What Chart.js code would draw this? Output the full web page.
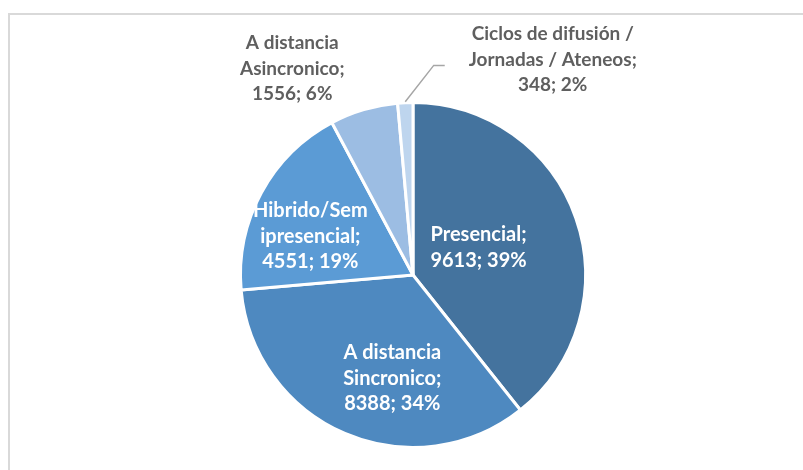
<!DOCTYPE html>
<html>
<head>
<meta charset="utf-8">
<script src="https://cdn.jsdelivr.net/npm/chart.js@4/dist/chart.umd.min.js"></script>
<style>
  html, body { margin: 0; padding: 0; background: #fff; }
  #wrap { position: relative; width: 803px; height: 470px; overflow: hidden; }
  #frame { position: absolute; left: 8px; top: 13px; width: 820px; height: 480px;
           border-left: 2px solid #d9d9d9; border-top: 2px solid #d9d9d9; }
  canvas { position: absolute; left: 0; top: 0; }
</style>
</head>
<body>
<div id="wrap">
  <div id="frame"></div>
  <canvas id="chart" width="803" height="470"></canvas>
</div>
<script>
  'use strict'

  const categories = ['Presencial', 'A distancia Sincronico', 'Hibrido/Semipresencial', 'A distancia Asincronico', 'Ciclos de difusión / Jornadas / Ateneos']
  const values = [9613, 8388, 4551, 1556, 348]
  const percents = ['39%', '34%', '19%', '6%', '2%']
  const labelLines = [
    ['Presencial;'],
    ['A distancia', 'Sincronico;'],
    ['Hibrido/Sem', 'ipresencial;'],
    ['A distancia', 'Asincronico;'],
    ['Ciclos de difusión /', 'Jornadas / Ateneos;']
  ]
  const colors = ['#44739e', '#4e89c0', '#5b9bd5', '#9cbde3', '#bed5ee']

  // label placement, in units of the pie radius from its centre
  const labelPlace = [
    { fx: 0.38, fy: -0.16, inside: true },
    { fx: -0.12, fy: 0.60, inside: true },
    { fx: -0.595, fy: -0.225, inside: true },
    { fx: -0.70, fy: -1.195, inside: false },
    { fx: 0.81, fy: -1.25, inside: false, leader: true }
  ]

  const sliceLabels = {
    id: 'sliceLabels',
    afterDatasetsDraw(chart) {
      const ctx = chart.ctx
      const arcs = chart.getDatasetMeta(0).data
      ctx.save()
      ctx.textAlign = 'center'
      ctx.textBaseline = 'middle'
      arcs.forEach((arc, i) => {
        const { x, y, outerRadius, startAngle, endAngle } = arc.getProps(['x', 'y', 'outerRadius', 'startAngle', 'endAngle'], true)
        const p = labelPlace[i]
        const lx = x + p.fx * outerRadius
        const ly = y + p.fy * outerRadius
        const lines = labelLines[i].concat([values[i] + '; ' + percents[i]])
        const lh = 25.5
        const top = ly - (lines.length - 1) * lh / 2

        if (p.leader) {
          const mid = (startAngle + endAngle) / 2
          ctx.strokeStyle = '#a6a6a6'
          ctx.lineWidth = 1.5
          ctx.beginPath()
          ctx.moveTo(x + Math.cos(mid) * (outerRadius + 1), y + Math.sin(mid) * (outerRadius + 1))
          ctx.lineTo(lx - 119, ly + 6)
          ctx.lineTo(lx - 108, ly + 6)
          ctx.stroke()
        }

        ctx.fillStyle = p.inside ? '#ffffff' : '#5f5f5f'
        ctx.font = p.inside ? 'bold 20px Lato' : 'bold 19px Lato'
        lines.forEach((t, k) => {
          ctx.fillText(t, lx, top + k * lh)
        })
      })
      ctx.restore()
    }
  }

  new Chart(document.getElementById('chart'), {
    type: 'pie',
    data: {
      labels: categories,
      datasets: [{
        data: values,
        backgroundColor: colors,
        borderColor: '#ffffff',
        borderWidth: 3
      }]
    },
    options: {
      responsive: false,
      animation: false,
      layout: { padding: { top: 101, bottom: 21, left: 239, right: 216 } },
      plugins: {
        legend: { display: false },
        tooltip: { enabled: false }
      }
    },
    plugins: [sliceLabels]
  })
</script>
</body>
</html>
